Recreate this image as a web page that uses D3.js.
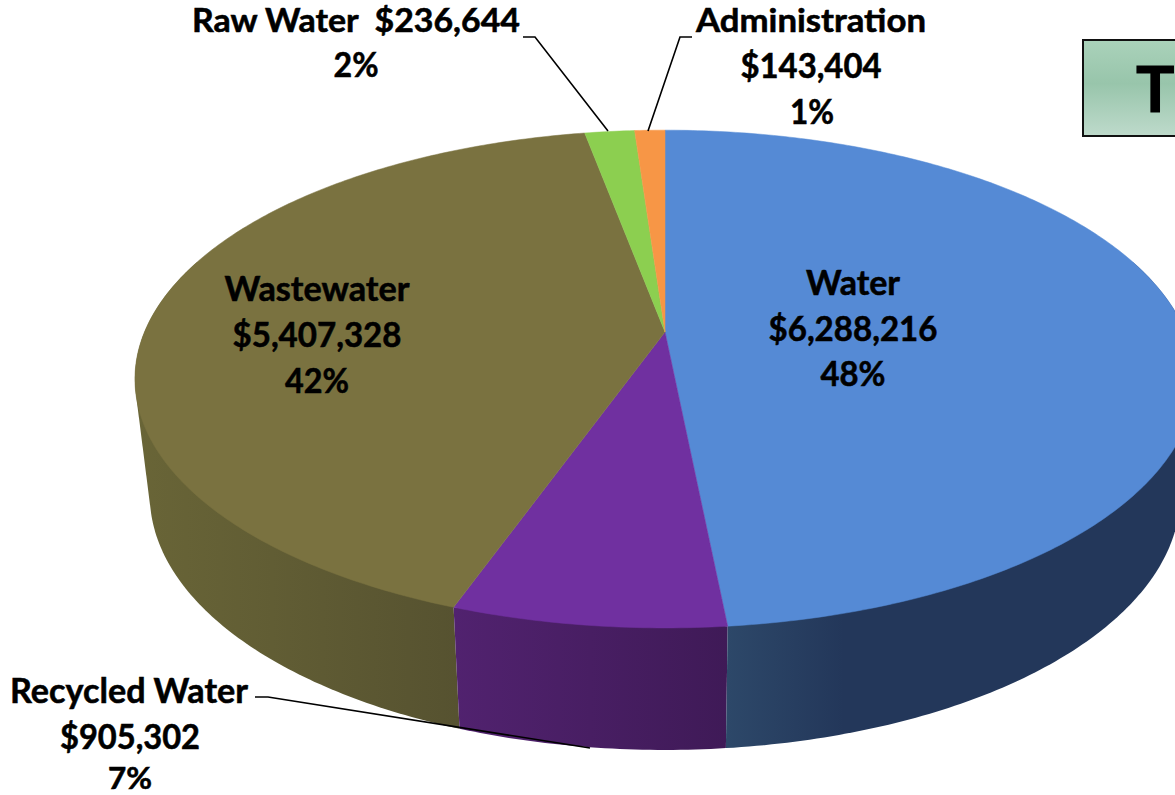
<!DOCTYPE html>
<html><head><meta charset="utf-8">
<script src="https://cdn.jsdelivr.net/npm/d3@7/dist/d3.min.js"></script>
<style>html,body{margin:0;padding:0;background:#fff;overflow:hidden}svg{display:block}text{font-family:Lato,"Open Sans",sans-serif;font-weight:700;fill:#000;stroke:#000;stroke-width:.55;white-space:pre}</style>
</head><body><svg id="c" width="1175" height="795"></svg>
<script>
const categories=["Water","Recycled Water","Wastewater","Raw Water","Administration"];
const values=[6288216,905302,5407328,236644,143404];
const percents=["48%","7%","42%","2%","1%"];
const topColors=["#558ad5","#7030a0","#7a7240","#8ccf50","#f79646"];
const sideLeft=["#2d4869","#51226f","#696537","#6a9a3c","#b86f33"];
const sideRight=["#23375a","#3f1a57","#565230","#6a9a3c","#b86f33"];

const svg=d3.select("#c");
const cx=665,apexY=332,R=520.5,k=0.189,s=240;
const ellipseY=379,bottomY=495,qx=0.972,qy=1.024;
// perspective projection of a point on the pie's top circle, and its image on the lower rim
const topPt=a=>{const X=R*Math.sin(a),Y=-Math.cos(a),d=1-k*Y;return [cx+X/d,apexY+s*Y/d];};
const botPt=a=>{const p=topPt(a);return [cx+qx*(p[0]-cx),bottomY+qy*(p[1]-ellipseY)];};
const arcs=d3.pie().sort(null).value(d=>d)(values);
const line=d3.line();
const samples=(a,b)=>{const n=Math.max(2,Math.ceil(Math.abs(b-a)*80));return d3.range(n+1).map(i=>a+(b-a)*i/n);};

const defs=svg.append("defs");
categories.forEach((c,i)=>{
  const g=defs.append("linearGradient").attr("id","side"+i).attr("x1","0").attr("x2","1").attr("y1","0").attr("y2","0");
  g.append("stop").attr("offset","0").attr("stop-color",sideLeft[i]);
  g.append("stop").attr("offset",i===0?"0.25":"1").attr("stop-color",sideRight[i]);
});
const bg=defs.append("linearGradient").attr("id","box").attr("x1","0").attr("x2","0").attr("y1","0").attr("y2","1");
[["0","#aad2ba"],["0.45","#98c5ab"],["1","#bedacb"]].forEach(d=>bg.append("stop").attr("offset",d[0]).attr("stop-color",d[1]));

// pie wall: left slices first so each seam is overlapped by the next wall
const lo=Math.PI*0.4,hi=Math.PI*1.6;
[2,1,0].forEach(i=>{
  const d=arcs[i];
  const a=Math.max(d.startAngle,lo),b=Math.min(d.endAngle,hi);
  if(b<=a) return;
  const t=samples(a,b);
  const hull=d3.polygonHull(t.map(topPt).concat(t.map(botPt)));
  svg.append("path").attr("d",line(hull)+"Z").attr("fill","url(#side"+i+")");
});
// top face
arcs.forEach((d,i)=>{
  const pts=[[cx,apexY]].concat(samples(d.startAngle,d.endAngle).map(topPt));
  svg.append("path").attr("d",line(pts)+"Z").attr("fill",topColors[i]).attr("stroke",topColors[i]).attr("stroke-width",0.5);
});

// title box, cut by the page edge
svg.append("rect").attr("x",1083).attr("y",40).attr("width",120).attr("height",96).attr("fill","url(#box)").attr("stroke","#111").attr("stroke-width",2);
svg.append("text").attr("x",1136).attr("y",112).attr("font-size",64).style("stroke-width","1").text("T");

// leaders
[[[523,37],[535,37],[608,131]],[[692,37],[680,37],[648,131]],[[255,697],[268,697],[590,748]]].forEach(p=>{
  svg.append("path").attr("d",line(p)).attr("fill","none").attr("stroke","#000").attr("stroke-width",1.6);
});

// labels
const money=d3.format("$,");
const label=(lines)=>lines.forEach(l=>{
  svg.append("text").attr("x",l[0]).attr("y",l[1]).attr("text-anchor","middle").attr("font-size",l[4]||34)
    .attr("textLength",l[3]).attr("lengthAdjust","spacingAndGlyphs").text(l[2]);
});
label([
 [853,295,categories[0],94],[853,341,money(values[0]),169],[853,386,percents[0],65],
 [317,301,categories[2],185],[317,347,money(values[2]),169],[317,393,percents[2],64],
 [356,32,categories[3]+"  "+money(values[3]),328,32],[356,77,percents[3],45],
 [811,32,categories[4],230,32],[811,78,money(values[4]),141],[812,124,percents[4],44],
 [129,703,categories[1],238],[130,749,money(values[1]),140],[130,788.5,percents[1],44,31]
]);
</script></body></html>
